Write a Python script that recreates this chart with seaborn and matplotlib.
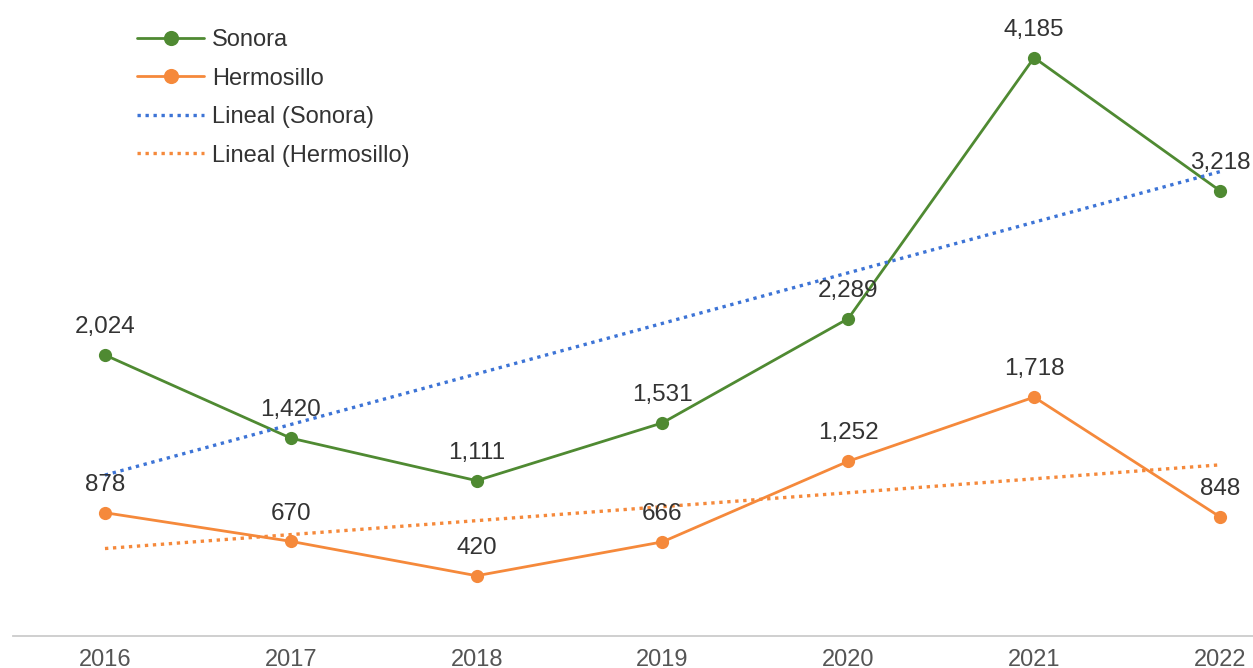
import matplotlib
matplotlib.use("Agg")
import matplotlib.pyplot as plt
import numpy as np
import pandas as pd
import seaborn as sns

# Data
years = [2016, 2017, 2018, 2019, 2020, 2021, 2022]
sonora = [2024, 1420, 1111, 1531, 2289, 4185, 3218]
hermosillo = [878, 670, 420, 666, 1252, 1718, 848]

df = pd.DataFrame({"year": years, "Sonora": sonora, "Hermosillo": hermosillo})

green = "#4f8a32"
orange = "#f5893b"
blue = "#3d74d6"

sns.set_theme(style="white")
plt.rcParams["font.family"] = ["Liberation Sans", "DejaVu Sans"]

fig = plt.figure(figsize=(12.53, 6.68), dpi=100)
ax = fig.add_axes([13 / 1253, 1 - 636 / 668, 1 - 13 / 1253, 636 / 668])

sns.lineplot(data=df, x="year", y="Sonora", ax=ax, color=green, lw=2.0,
             marker="o", markersize=9.5, markeredgewidth=0, label="Sonora")
sns.lineplot(data=df, x="year", y="Hermosillo", ax=ax, color=orange, lw=2.0,
             marker="o", markersize=9.5, markeredgewidth=0, label="Hermosillo")

# linear trend lines
sns.regplot(data=df, x="year", y="Sonora", ax=ax, scatter=False, ci=None,
            color=blue, label="Lineal (Sonora)",
            line_kws={"lw": 2.4, "dashes": (1, 1.4)})
sns.regplot(data=df, x="year", y="Hermosillo", ax=ax, scatter=False, ci=None,
            color=orange, label="Lineal (Hermosillo)",
            line_kws={"lw": 2.4, "dashes": (1, 1.4)})

# data labels
for col in ["Sonora", "Hermosillo"]:
    for x, v in zip(df["year"], df[col]):
        ax.annotate(f"{v:,}", (x, v), xytext=(0, 20), textcoords="offset points",
                    ha="center", va="center", fontsize=17.5, color="#333333")

ax.set_xlim(2015.505, 2022.178)
ax.set_ylim(-18, 4604)
ax.set_xticks(years)
ax.set_xticklabels([str(y) for y in years])
ax.set_yticks([])
ax.set_xlabel("")
ax.set_ylabel("")
ax.tick_params(axis="x", length=0, pad=9, labelsize=17, labelcolor="#555555")

for s in ["left", "right", "top"]:
    ax.spines[s].set_visible(False)
ax.spines["bottom"].set_color("#cccccc")
ax.spines["bottom"].set_linewidth(1.3)

ax.legend(loc="upper left", bbox_to_anchor=(137 / 1253, 1 - 29 / 668),
          bbox_transform=fig.transFigure, frameon=False, fontsize=17,
          handlelength=2.85, handletextpad=0.33, labelspacing=0.7,
          markerscale=1.15, borderpad=0, borderaxespad=0, labelcolor="#333333")

fig.savefig("out.png", dpi=100)
